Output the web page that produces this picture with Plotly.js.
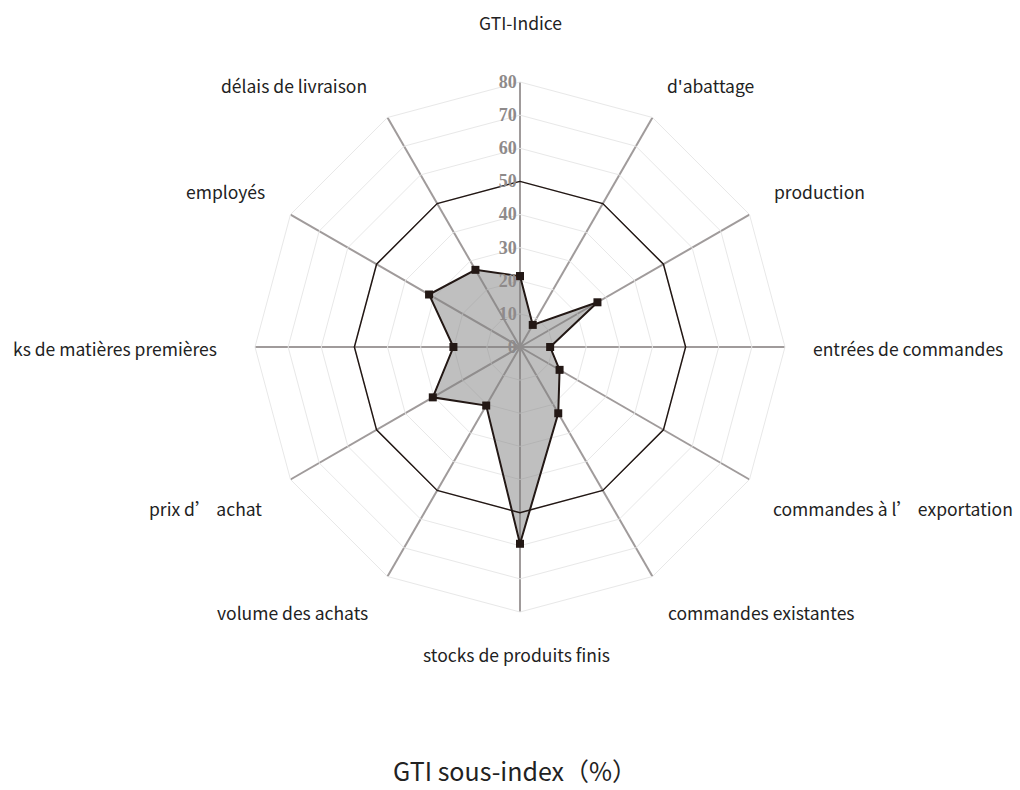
<!DOCTYPE html>
<html>
<head>
<meta charset="utf-8">
<script src="https://cdn.plot.ly/plotly-3.0.1.min.js"></script>
<style>html,body{margin:0;padding:0;background:#fff;}#chart{width:1020px;height:790px;}</style>
</head>
<body>
<div id="chart"></div>
<script>
const categories = [
  "GTI-Indice", "d'abattage", "production", "entrées de commandes",
  "commandes à l’ exportation", "commandes existantes", "stocks de produits finis",
  "volume des achats", "prix d’ achat", "ks de matières premières", "employés", "délais de livraison"
];
const values = [21.4, 7.7, 27.0, 9.1, 13.8, 23.1, 59.4, 20.4, 30.4, 20.1, 31.7, 26.9];
const referenceLevel = [50, 50, 50, 50, 50, 50, 50, 50, 50, 50, 50, 50];
const radialTicks = [0, 10, 20, 30, 40, 50, 60, 70, 80];
const chartTitle = "GTI sous-index（%）";

// label placement (layout only): pixel anchor and horizontal anchoring per category
const W = 1020, H = 790;
const labelPlacement = [
  [520, 22, 'center'], [665, 85, 'left'], [772, 192, 'left'], [811, 348, 'left'],
  [771, 508, 'left'], [666, 612, 'left'], [516, 654, 'center'], [370, 612, 'right'],
  [264, 508, 'right'], [219, 348, 'right'], [267, 192, 'right'], [369, 85, 'right']
];

const closeLoop = a => a.concat([a[0]]);
const labelFont = {family: '"Noto Sans CJK SC", "Noto Sans", sans-serif', size: 17.5, color: '#222'};

const data = [
  {
    type: 'scatterpolar',
    r: closeLoop(values),
    theta: closeLoop(categories),
    mode: 'lines+markers',
    fill: 'toself',
    fillcolor: 'rgba(128,128,128,0.5)',
    line: {color: '#231815', width: 2},
    marker: {symbol: 'square', size: 8, color: '#231815'},
    hoverinfo: 'skip',
    showlegend: false
  },
  {
    type: 'scatterpolar',
    r: closeLoop(referenceLevel),
    theta: closeLoop(categories),
    mode: 'lines',
    line: {color: '#231815', width: 1.5},
    hoverinfo: 'skip',
    showlegend: false
  }
];

const annotations = categories.map((c, i) => ({
  text: c,
  xref: 'paper', yref: 'paper',
  x: labelPlacement[i][0] / W,
  y: 1 - labelPlacement[i][1] / H,
  xanchor: labelPlacement[i][2], yanchor: 'middle',
  showarrow: false,
  font: labelFont
}));

const layout = {
  width: W,
  height: H,
  margin: {l: 0, r: 0, t: 0, b: 0},
  paper_bgcolor: '#fff',
  plot_bgcolor: '#fff',
  showlegend: false,
  annotations: annotations,
  title: {
    text: chartTitle,
    x: 0.505, xanchor: 'center',
    y: 0.022, yref: 'container', yanchor: 'middle',
    font: {family: '"Noto Sans CJK SC", "Noto Sans", sans-serif', size: 25, color: '#222'}
  },
  polar: {
    domain: {x: [0.25, 0.7696], y: [0.2253, 0.8962]},
    bgcolor: '#fff',
    gridshape: 'linear',
    radialaxis: {
      range: [0, 80],
      tickvals: radialTicks,
      ticktext: radialTicks.map(String),
      angle: 90,
      tickangle: 90,
      side: 'counterclockwise',
      showline: false,
      ticks: '',
      gridcolor: '#e8e8e8',
      gridwidth: 1,
      tickfont: {family: '"Liberation Serif", "DejaVu Serif", serif', size: 18, color: '#8e8a8a', weight: 'bold'}
    },
    angularaxis: {
      rotation: 90,
      direction: 'clockwise',
      showline: true,
      linecolor: '#e8e8e8',
      linewidth: 1,
      gridcolor: '#a09b9b',
      gridwidth: 2,
      ticks: '',
      showticklabels: false
    }
  }
};

Plotly.newPlot('chart', data, layout, {displayModeBar: false, staticPlot: true});
</script>
</body>
</html>
